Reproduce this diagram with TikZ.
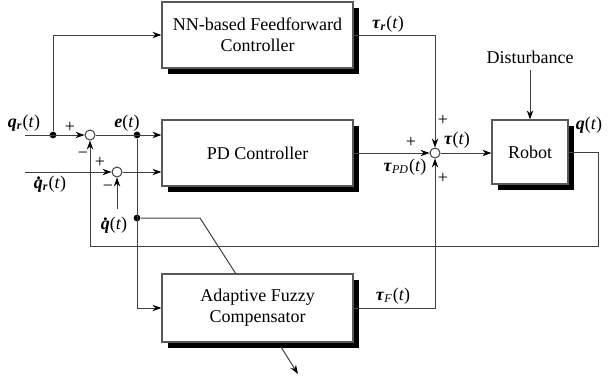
\documentclass[tikz,border=0pt]{standalone}
\usepackage{fontspec}
\setmainfont{Liberation Serif}
\usetikzlibrary{arrows.meta,shadows}
\newcommand{\bv}[1]{\textbf{\textit{#1}}}
\newcommand{\sg}[2]{\bv{#1}\textsubscript{\bv{#2}}(\textit{t})}
% bold q with a dot on top
\newcommand{\qd}{\bv{q}\makebox[0pt][r]{\raisebox{0.48em}{\bv{.}}\hspace{0.08em}}}

\tikzset{
	block/.style={draw=black!65, fill=white, line width=0.6pt, align=center,
		minimum width=95.5pt, minimum height=33pt,
		drop shadow={shadow xshift=3pt, shadow yshift=-3pt, fill=black, opacity=1}},
	sumnode/.style={draw=black!75, circle, fill=white, line width=0.5pt, minimum size=5pt, inner sep=0pt},
	dot/.style={circle, fill=black, minimum size=3.4pt, inner sep=0pt},
	sig/.style={draw=black!75, line width=0.5pt},
	arr/.style={sig, -{Stealth[length=4.5pt,width=3.2pt,black]}},
}

\begin{document}
\begin{tikzpicture}[x=0.5pt, y=-0.5pt, font=\fontsize{9}{10.5}\selectfont]
			%%%%% FRAME %%%%%
			\useasboundingbox (0, 0) rectangle (608, 381);
			
			%%%%% BLOCKS %%%%%
			\node[block] (nn) at (257.5, 35) {NN-based Feedforward\\Controller};
			\node[block] (pd) at (257.5, 153) {PD Controller};
			\node[block, minimum height=34pt] (fz) at (257.5, 308) {Adaptive Fuzzy\\Compensator};
			\node[block, minimum width=38pt, minimum height=32pt] (robot) at (530, 152) {Robot};
			
			\node[sumnode] (c1) at (90, 135) {};
			\node[sumnode] (c2) at (117, 172) {};
			\node[sumnode] (sum) at (435, 153) {};
			
			\node[dot] (jq) at (53, 135) {};
			\node[dot] (je) at (137, 135) {};
			\node[dot] (jd) at (137, 218) {};
			
			\coordinate (qrin) at (25, 135);
			\coordinate (qdrin) at (25, 172);
			\coordinate (qdin) at (117, 209);
			\coordinate (fbr) at (598, 246);
			\coordinate (kink) at (200, 218);
			\coordinate (fzin) at (236, 274);
			\coordinate (fzo) at (281, 347);
			\coordinate (fzend) at (298, 374);
			
			\node (dist) at (530, 57) {Disturbance};
			
			%%%%% SIGNALS %%%%%
			\draw[arr] (qrin) -- (c1);
			\draw[arr] (jq) |- (nn.west);
			\draw[arr] (c1) -- (pd.west |- c1);
			\draw[arr] (qdrin) -- (c2);
			\draw[arr] (qdin) -- (c2);
			\draw[arr] (c2) -- (pd.west |- c2);
			\draw[arr] (je) |- (fz.west);
			\draw[sig] (jd) -- (kink) -- (fzin);
			\draw[arr] (fzo) -- (fzend);
			
			\draw[arr] (nn.east) -| (sum);
			\draw[arr] (pd.east) -- (sum);
			\draw[arr] (fz.east) -| (sum);
			\draw[arr] (sum) -- (robot.west |- sum);
			\draw[arr] (dist) -- (robot.north);
			\draw[arr] (robot.east) -| (fbr) -| (c1);
			
			%%%%% LABELS %%%%%
			\node at (24, 123) {\sg{q}{r}};
			\node at (127, 123) {\bv{e}(\textit{t})};
			\node at (50, 184) {\qd\textsubscript{\bv{r}}(\textit{t})};
			\node at (114, 225) {\qd(\textit{t})};
			\node at (589, 125) {\bv{q}(\textit{t})};
			\node at (388, 24) {\sg{τ}{r}};
			\node at (457, 140) {\bv{τ}(\textit{t})};
			\node at (405, 167) {\bv{τ}\textsubscript{\textit{PD}}(\textit{t})};
			\node at (393, 296) {\bv{τ}\textsubscript{\textit{F}}(\textit{t})};
			
			\node at (70, 127) {+};
			\node at (83, 155) {−};
			\node at (100, 162) {+};
			\node at (108, 188) {−};
			\node at (443, 120) {+};
			\node at (411, 142) {+};
			\node at (443, 178) {+};
			%%%%% END %%%%%
\end{tikzpicture}
\end{document}
